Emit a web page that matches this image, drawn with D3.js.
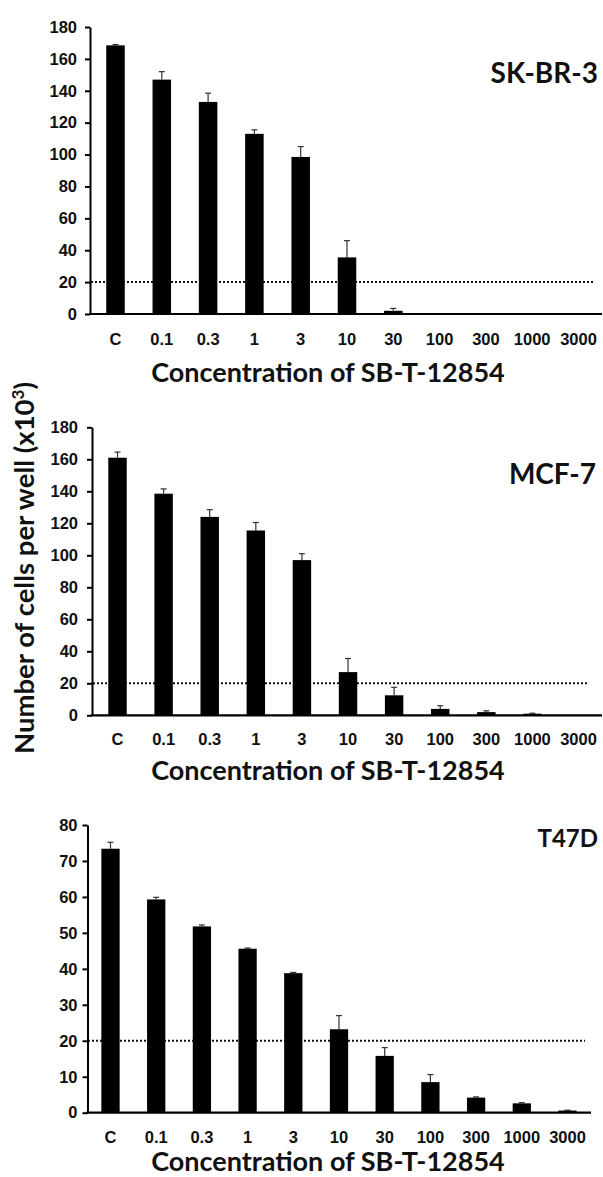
<!DOCTYPE html>
<html>
<head>
<meta charset="utf-8">
<script src="https://cdn.jsdelivr.net/npm/d3@7"></script>
<style>
  html, body { margin: 0; padding: 0; background: #fff; }
  svg { display: block; }
</style>
</head>
<body>
<div id="chart"></div>
<script>
// ---------------- DATA ----------------
const concentrations = ["C", "0.1", "0.3", "1", "3", "10", "30", "100", "300", "1000", "3000"];

const skbr3Means = [168.5, 147, 133, 113, 98.5, 35.5, 2, 0, 0, 0, 0];
const skbr3Errors = [0.5, 5, 5.5, 2.5, 6.5, 10.5, 1.5, 0, 0, 0, 0];

const mcf7Means = [161, 138.5, 124, 115.5, 97, 27, 12.5, 4, 2, 1, 0];
const mcf7Errors = [3.5, 3, 4.5, 5, 4, 8.5, 5, 2, 0.8, 0.3, 0];

const t47dMeans = [73.4, 59.3, 51.8, 45.6, 38.8, 23.2, 15.8, 8.5, 4.2, 2.6, 0.6];
const t47dErrors = [1.8, 0.6, 0.4, 0.2, 0.2, 3.8, 2.3, 2.1, 0.2, 0.2, 0.1];

const threshold = 20;
const yTicksLarge = [0, 20, 40, 60, 80, 100, 120, 140, 160, 180];
const yTicksSmall = [0, 10, 20, 30, 40, 50, 60, 70, 80];

const cellLines = ["SK-BR-3", "MCF-7", "T47D"];
const xAxisTitle = "Concentration of SB-T-12854";
const yAxisTitle = "Number of cells per well (x10";
const yAxisTitleSup = "3";

// ---------------- LAYOUT ----------------
const W = 603, H = 1177;
const svg = d3.select("#chart").append("svg").attr("width", W).attr("height", H);

const panels = [
  { name: cellLines[0], means: skbr3Means, errs: skbr3Errors, ymax: 180, ticks: yTicksLarge,
    y0: 314, y1: 27, axisX: 90, xr: [92.35, 601.65], xEnd: 602, dotX: [91, 595],
    tickBase: 345, titleBase: 382, labelX: 598, labelBase: 83, labelSize: 28, tickFont: 16.5, pad: 8 },
  { name: cellLines[1], means: mcf7Means, errs: mcf7Errors, ymax: 180, ticks: yTicksLarge,
    y0: 715.3, y1: 427.3, axisX: 92, xr: [94.45, 601.6], xEnd: 602, dotX: [93, 588],
    tickBase: 745, titleBase: 780, labelX: 596, labelBase: 484, labelSize: 28, tickFont: 16.5, pad: 9 },
  { name: cellLines[2], means: t47dMeans, errs: t47dErrors, ymax: 80, ticks: yTicksSmall,
    y0: 1112.7, y1: 825, axisX: 87.5, xr: [87.65, 590.35], xEnd: 591, dotX: [88, 585],
    tickBase: 1143, titleBase: 1171, labelX: 598, labelBase: 847, labelSize: 24, tickFont: 16.5, pad: 5 }
];

const tickFamily = "'Liberation Sans', Arial, sans-serif";
const titleFamily = "Lato, 'Open Sans', sans-serif";

panels.forEach(p => {
  const g = svg.append("g");
  const y = d3.scaleLinear().domain([0, p.ymax]).range([p.y0, p.y1]);
  const x = d3.scaleBand().domain(concentrations).range(p.xr).paddingInner(0.6).paddingOuter(0.3);

  // threshold dotted line
  g.append("line")
    .attr("x1", p.dotX[0]).attr("x2", p.dotX[1])
    .attr("y1", y(threshold)).attr("y2", y(threshold))
    .attr("stroke", "#111").attr("stroke-width", 2)
    .attr("stroke-dasharray", "2,2");

  const data = concentrations.map((c, i) => ({ c, m: p.means[i], e: p.errs[i] }));

  // error bars
  const eb = g.selectAll(".err").data(data.filter(d => d.e > 0)).enter().append("g");
  eb.append("line")
    .attr("x1", d => x(d.c) + x.bandwidth() / 2).attr("x2", d => x(d.c) + x.bandwidth() / 2)
    .attr("y1", d => y(d.m)).attr("y2", d => y(d.m + d.e))
    .attr("stroke", "#333").attr("stroke-width", 1.2);
  eb.append("line")
    .attr("x1", d => x(d.c) + x.bandwidth() / 2 - 3).attr("x2", d => x(d.c) + x.bandwidth() / 2 + 3)
    .attr("y1", d => y(d.m + d.e)).attr("y2", d => y(d.m + d.e))
    .attr("stroke", "#333").attr("stroke-width", 1.2);

  // bars
  g.selectAll(".bar").data(data).enter().append("rect")
    .attr("x", d => x(d.c)).attr("width", x.bandwidth())
    .attr("y", d => y(d.m)).attr("height", d => y(0) - y(d.m))
    .attr("fill", "#000");

  // y axis
  const ya = g.append("g").attr("transform", `translate(${p.axisX},0)`)
    .call(d3.axisLeft(y).tickValues(p.ticks).tickSize(5).tickSizeOuter(0).tickPadding(p.pad));
  ya.select(".domain").attr("stroke", "#000").attr("stroke-width", 2);
  ya.selectAll(".tick line").attr("stroke", "#000").attr("stroke-width", 2);
  ya.selectAll(".tick text")
    .attr("font-family", tickFamily).attr("font-weight", "bold")
    .attr("font-size", p.tickFont).attr("fill", "#111");

  // x axis baseline
  g.append("line")
    .attr("x1", p.axisX - 1).attr("x2", p.xEnd)
    .attr("y1", y(0)).attr("y2", y(0))
    .attr("stroke", "#000").attr("stroke-width", 2.2);

  // x axis tick labels
  const xa = g.append("g").attr("transform", `translate(0,${p.tickBase})`)
    .call(d3.axisBottom(x).tickSize(0).tickPadding(0));
  xa.select(".domain").remove();
  xa.selectAll(".tick text")
    .attr("dy", 0).attr("y", 0)
    .attr("font-family", tickFamily).attr("font-weight", "bold")
    .attr("font-size", p.tickFont).attr("fill", "#111");

  // x axis title
  g.append("text")
    .attr("x", 328).attr("y", p.titleBase)
    .attr("text-anchor", "middle")
    .attr("font-family", titleFamily).attr("font-weight", "bold")
    .attr("font-size", 27).attr("fill", "#111")
    .text(xAxisTitle);

  // cell line label
  g.append("text")
    .attr("x", p.labelX).attr("y", p.labelBase)
    .attr("text-anchor", "end")
    .attr("font-family", titleFamily).attr("font-weight", "bold")
    .attr("font-size", p.labelSize).attr("fill", "#111")
    .text(p.name);
});

// shared y axis title
const yt = svg.append("text")
  .attr("transform", "translate(34,568) rotate(-90)")
  .attr("text-anchor", "middle")
  .attr("font-family", titleFamily).attr("font-weight", "bold")
  .attr("font-size", 27.5).attr("fill", "#111");
yt.append("tspan").text(yAxisTitle);
yt.append("tspan").attr("dy", -10).attr("font-size", 17).text(yAxisTitleSup);
yt.append("tspan").attr("dy", 10).text(")");
</script>
</body>
</html>
